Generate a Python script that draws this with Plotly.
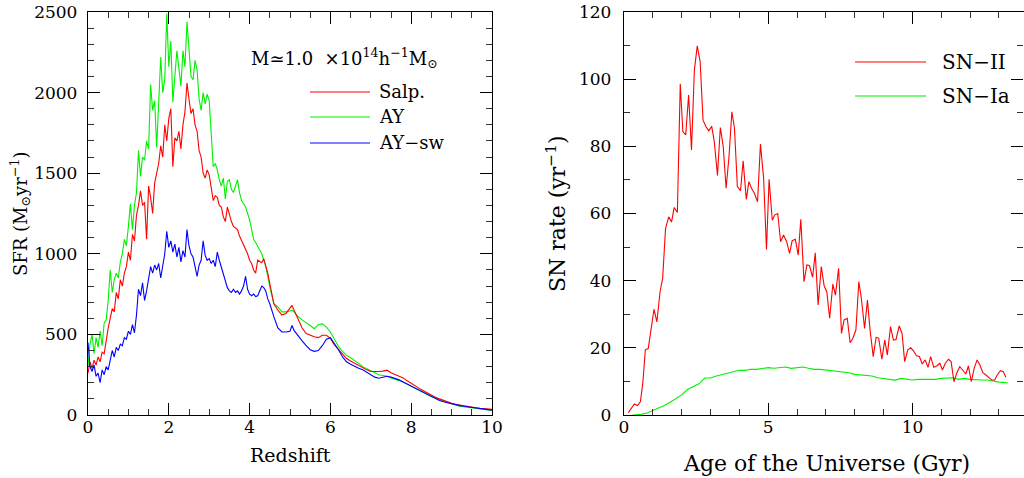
import plotly.graph_objects as go

# ---------------- data: left panel (SFR vs redshift) ----------------
redshift = [
    0.00, 0.05, 0.10, 0.15, 0.20, 0.25, 0.30, 0.35, 0.40, 0.45,
    0.50, 0.55, 0.60, 0.65, 0.70, 0.75, 0.80, 0.85, 0.90, 0.95,
    1.00, 1.05, 1.10, 1.15, 1.20, 1.25, 1.30, 1.35, 1.40, 1.45,
    1.50, 1.55, 1.60, 1.65, 1.70, 1.75, 1.80, 1.85, 1.90, 1.95,
    2.00, 2.05, 2.10, 2.15, 2.20, 2.25, 2.30, 2.35, 2.40, 2.45,
    2.50, 2.55, 2.60, 2.65, 2.70, 2.75, 2.80, 2.85, 2.90, 2.95,
    3.00, 3.05, 3.10, 3.15, 3.20, 3.25, 3.30, 3.35, 3.40, 3.45,
    3.50, 3.55, 3.60, 3.65, 3.70, 3.75, 3.80, 3.85, 3.90, 3.95,
    4.00, 4.05, 4.10, 4.15, 4.20, 4.25, 4.30, 4.35, 4.40, 4.45,
    4.50,
    4.6, 4.7, 4.8, 4.9, 5.0, 5.05, 5.1, 5.2, 5.3, 5.4,
    5.5, 5.6, 5.7, 5.8, 5.9, 6.0, 6.1, 6.2, 6.3, 6.4,
    6.5, 6.6, 6.7, 6.8, 6.9, 7.0, 7.1, 7.2, 7.3, 7.4,
    7.5, 7.6, 7.7, 7.8, 7.9, 8.0, 8.1, 8.2, 8.3, 8.4,
    8.5, 8.6, 8.7, 8.8, 8.9, 9.0, 9.1, 9.2, 9.3, 9.4,
    9.5, 9.6, 9.7, 9.8, 9.9, 10.0,
]

sfr_salp = [
    260, 330, 290, 340, 310, 360, 330, 390, 380, 470,
    540, 600, 660, 640, 760, 720, 840, 800, 880, 920,
    1010, 960, 1120, 1080, 1240, 1300, 1390, 1300, 1320, 1090,
    1420, 1350, 1250, 1440, 1500, 1560, 1670, 1600, 1800, 1700,
    1840, 1900, 1540, 1720, 1700, 1760, 1650, 1800, 1880, 2060,
    1960, 1870, 1900, 1800, 1760, 1640, 1600, 1500, 1470, 1520,
    1490, 1420, 1330, 1360, 1350, 1300, 1290, 1230, 1200, 1290,
    1240, 1200, 1170, 1160, 1150, 1110, 1085, 1060, 1025, 1000,
    960, 940, 900, 880, 960, 950, 945, 970, 930, 880,
    815,
    690, 650, 620, 630, 660, 680, 650, 590, 540, 505,
    495, 485, 480, 495, 495, 475, 435, 405, 375, 350,
    335, 320, 305, 290, 280, 270, 268, 270, 272, 278,
    262, 250, 240, 230, 212, 195, 180, 165, 150, 135,
    122, 110, 100, 90, 80, 72, 67, 62, 57, 52,
    48, 45, 42, 40, 37, 35,
]

sfr_ay = [
    300, 440, 500, 380, 480, 420, 520, 430, 570, 590,
    710, 900, 760, 840, 880, 850, 950, 1000, 1090, 1050,
    1170, 1310, 1150, 1300, 1380, 1640, 1480, 1600, 1580, 1700,
    1650, 2050, 1890, 1950, 1660, 2000, 2220, 2000, 2080, 2490,
    2160, 2320, 1940, 2100, 2260, 2150, 2040, 2260, 2160, 2440,
    2250, 2100, 2080, 2200, 2140, 1960, 1890, 2000, 1930, 1990,
    1950, 1710, 1540, 1560, 1520, 1460, 1420, 1470, 1340, 1450,
    1460, 1400, 1380, 1420, 1460, 1380, 1330, 1310, 1290, 1250,
    1210, 1150, 1090, 1070, 1045, 1020, 1000, 960, 920, 860,
    795,
    690, 670, 640, 640, 645, 650, 640, 610, 590, 575,
    555, 535, 560, 565, 545, 515, 465, 425, 395, 370,
    355, 340, 320, 300, 288, 275, 262, 250, 245, 240,
    230, 220, 212, 205, 192, 180, 168, 155, 140, 125,
    115, 105, 95, 85, 78, 70, 62, 55, 52, 48,
    44, 40, 36, 33, 31, 30,
]

sfr_aysw = [
    450, 300, 270, 310, 240, 260, 200, 280, 250, 300,
    280, 340, 400, 360, 420, 400, 440, 430, 480, 470,
    520, 500, 560, 510, 620, 780, 740, 820, 710, 770,
    860, 920, 880, 930, 900, 940, 850, 930, 1000, 1140,
    1040, 1080, 1010, 1060, 980, 1040, 950, 1020, 980, 1150,
    1050, 1000, 980, 920, 860, 930, 960, 1080, 990, 960,
    970, 940, 960, 920, 1010, 960, 920, 880, 840, 790,
    770, 760, 780, 760, 770, 750, 770, 800, 860, 780,
    750, 740, 750, 735, 740, 770, 800, 790, 770, 720,
    690,
    610, 540, 515, 515, 520, 555, 525, 490, 460, 430,
    405, 395, 400, 430, 470, 480, 445, 405, 360, 330,
    315, 300, 290, 280, 265, 250, 235, 228, 235, 240,
    235, 228, 218, 205, 192, 180, 165, 150, 138, 125,
    112, 100, 90, 82, 75, 68, 63, 58, 54, 50,
    46, 42, 39, 36, 33, 30,
]

# ---------------- data: right panel (SN rates vs age) ----------------
sn2_age = [
    0.15, 0.36, 0.47, 0.57, 0.65, 0.74, 0.84, 0.94, 1.04, 1.14,
    1.25, 1.34, 1.44, 1.55, 1.65, 1.74, 1.85, 1.95, 2.04, 2.14,
    2.24, 2.34, 2.44, 2.54, 2.64, 2.74, 2.84, 2.94, 3.04, 3.13,
    3.24, 3.34, 3.44, 3.54, 3.64, 3.74, 3.83, 3.93, 4.04, 4.13,
    4.24, 4.33, 4.42, 4.52, 4.63, 4.73, 4.84, 4.94, 5.03, 5.14,
    5.23, 5.33, 5.43, 5.53, 5.64, 5.74, 5.83, 5.94, 6.04, 6.13,
    6.24, 6.34, 6.43, 6.54, 6.63, 6.73, 6.84, 6.94, 7.03, 7.13,
    7.24, 7.33, 7.44, 7.54, 7.63, 7.74, 7.84, 7.93, 8.04, 8.14,
    8.23, 8.34, 8.44, 8.53, 8.64, 8.74, 8.83, 8.94, 9.04, 9.13,
    9.24, 9.34, 9.43, 9.54, 9.64, 9.73, 9.84, 9.94, 10.03, 10.14,
    10.24, 10.34, 10.44, 10.54, 10.63, 10.74, 10.84, 10.95, 11.04, 11.14,
    11.25, 11.34, 11.44, 11.54, 11.64, 11.74, 11.85, 11.94, 12.04, 12.14,
    12.24, 12.34, 12.44, 12.55, 12.64, 12.75, 12.85, 12.94, 13.05, 13.15,
    13.24,
]
sn2_rate = [
    0.7, 3.3, 2.8, 4.0, 9.4, 19.4, 19.8, 26.3, 31.5, 27.7,
    36.7, 40.7, 55.5, 59.0, 57.5, 61.8, 60.3, 98.6, 84.4, 83.4,
    95.3, 78.9, 102.7, 109.9, 105.2, 87.8, 85.9, 84.6, 86.0, 81.4,
    71.3, 85.6, 79.9, 67.5, 76.9, 90.3, 85.4, 68.0, 66.8, 75.7,
    64.2, 69.5, 67.5, 66.0, 63.5, 80.7, 70.5, 49.3, 70.2, 58.0,
    59.6, 60.0, 51.6, 53.6, 51.6, 48.1, 51.9, 52.3, 47.6, 58.3,
    39.7, 44.7, 44.5, 41.0, 48.3, 32.8, 44.2, 38.4, 36.7, 28.8,
    39.0, 35.7, 43.7, 24.3, 28.3, 28.8, 21.5, 22.8, 25.3, 39.7,
    34.7, 25.8, 34.2, 25.3, 17.4, 23.1, 22.9, 16.6, 22.3, 17.9,
    26.3, 22.3, 22.5, 26.5, 24.3, 15.9, 19.4, 20.0, 19.2, 17.6,
    17.4, 15.2, 16.4, 14.2, 17.4, 14.2, 14.6, 15.4, 13.4, 15.4,
    16.6, 15.9, 9.9, 12.6, 14.4, 13.4, 12.2, 14.6, 9.9, 13.9,
    16.4, 14.9, 12.6, 11.9, 11.2, 10.4, 10.4, 11.9, 13.2, 12.9,
    11.2,
]

ia_age = [
    0.3, 0.6, 0.8, 1.0, 1.2, 1.4, 1.6, 1.8, 2.0, 2.2,
    2.4, 2.6, 2.8, 3.0, 3.2, 3.4, 3.6, 3.8, 4.0, 4.2,
    4.4, 4.6, 4.8, 5.0, 5.2, 5.4, 5.6, 5.8, 6.0, 6.2,
    6.4, 6.6, 6.8, 7.0, 7.2, 7.4, 7.6, 7.8, 8.0, 8.2,
    8.4, 8.6, 8.8, 9.0, 9.2, 9.4, 9.6, 9.8, 10.0, 10.2,
    10.4, 10.6, 10.8, 11.0, 11.2, 11.4, 11.6, 11.8, 12.0, 12.2,
    12.4, 12.6, 12.8, 13.0, 13.3,
]
ia_rate = [
    0.0, 0.2, 0.6, 1.3, 2.0, 2.8, 3.8, 5.0, 6.0, 7.6,
    8.4, 9.3, 11.0, 11.0, 11.6, 12.0, 12.4, 12.8, 13.3, 13.3,
    13.6, 13.6, 13.9, 14.1, 13.9, 14.1, 14.3, 13.9, 14.1, 14.3,
    13.9, 13.6, 13.6, 13.4, 13.1, 12.9, 12.9, 12.6, 12.1, 11.9,
    11.9, 11.6, 11.1, 10.9, 10.6, 10.4, 10.9, 10.6, 10.4, 10.6,
    10.6, 10.6, 10.6, 10.9, 10.9, 11.1, 10.6, 10.9, 10.6, 10.4,
    10.4, 10.4, 10.1, 9.8, 9.6,
]

left_names = ["Salp.", "AY", "AY\u2212sw"]
right_names = ["SN\u2212II", "SN\u2212Ia"]
mass_label = "M\u22431.0  \u00d710<sup>14</sup>h<sup>\u22121</sup>M<sub>\u2299</sub>"
left_xtitle = "Redshift"
left_ytitle = "SFR (M<sub>\u2299</sub>yr<sup>\u22121</sup>)"
right_xtitle = "Age of the Universe (Gyr)"
right_ytitle = "SN rate (yr<sup>\u22121</sup>)"

RED, GREEN, BLUE = "#ff0000", "#00f000", "#0000ff"
FONT = "DejaVu Serif"

fig = go.Figure()
fig.add_trace(go.Scatter(x=redshift, y=sfr_ay, mode="lines", line=dict(color=GREEN, width=1.1),
                         name=left_names[1], xaxis="x", yaxis="y"))
fig.add_trace(go.Scatter(x=redshift, y=sfr_salp, mode="lines", line=dict(color=RED, width=1.1),
                         name=left_names[0], xaxis="x", yaxis="y"))
fig.add_trace(go.Scatter(x=redshift, y=sfr_aysw, mode="lines", line=dict(color=BLUE, width=1.1),
                         name=left_names[2], xaxis="x", yaxis="y"))
fig.add_trace(go.Scatter(x=ia_age, y=ia_rate, mode="lines", line=dict(color=GREEN, width=1.1),
                         name=right_names[1], xaxis="x2", yaxis="y2"))
fig.add_trace(go.Scatter(x=sn2_age, y=sn2_rate, mode="lines", line=dict(color=RED, width=1.1),
                         name=right_names[0], xaxis="x2", yaxis="y2"))

W, H = 1024, 478
L_DOM = [88 / W, 492 / W]
R_DOM = [624 / W, 1023.5 / W]
Y_DOM = [(H - 415) / H, (H - 12) / H]

def axis_style(dom, rng, dtick, minor_dtick, anchor, standoff, tfs):
    return dict(
        domain=dom, range=rng, anchor=anchor, automargin=False,
        showgrid=False, zeroline=False,
        showline=True, linecolor="black", linewidth=1.3, mirror="allticks",
        ticks="inside", ticklen=12, tickwidth=1.2, tickcolor="black",
        dtick=dtick, tick0=0,
        minor=dict(ticks="inside", ticklen=6, tickwidth=1.2, tickcolor="#333",
                   dtick=minor_dtick, tick0=0, showgrid=False),
        tickfont=dict(family=FONT, size=tfs, color="black"),
        ticklabelstandoff=standoff,
    )

fig.update_layout(
    width=W, height=H,
    margin=dict(l=0, r=0, t=0, b=0),
    paper_bgcolor="white", plot_bgcolor="white",
    showlegend=False,
    xaxis=axis_style(L_DOM, [0, 10], 2, 0.5, "y", -4, 17),
    yaxis=axis_style(Y_DOM, [0, 2500], 500, 100, "x", 6, 17),
    xaxis2=axis_style(R_DOM, [0, 13.85], 5, 1, "y2", -4, 17),
    yaxis2=axis_style(Y_DOM, [0, 120], 20, 10, "x2", 8, 17),
)

def paper_text(xp, yp, text, size, angle=0):
    fig.add_annotation(x=xp / W, y=1 - yp / H, xref="paper", yref="paper", text=text,
                       showarrow=False, xanchor="center", yanchor="middle", textangle=angle,
                       font=dict(family=FONT, size=size, color="black"))

# axis titles
paper_text(290, 455, left_xtitle, 19)
paper_text(20, 214, left_ytitle, 18, -90)
paper_text(826, 463, right_xtitle, 22)
paper_text(556, 214, right_ytitle, 22, -90)

# ---- in-plot legend keys (left panel) ----
fig.add_annotation(x=(249 - 88) / 404, y=(415 - 58) / 403, xref="x domain", yref="y domain",
                   text=mass_label, showarrow=False, xanchor="left", yanchor="middle",
                   font=dict(family=FONT, size=18, color="black"))
left_rows = [(92, RED, left_names[0]), (117, GREEN, left_names[1]), (143, BLUE, left_names[2])]
for ypix, col, txt in left_rows:
    yd = (415 - ypix) / 403
    fig.add_shape(type="line", xref="x domain", yref="y domain",
                  x0=(310 - 88) / 404, x1=(370 - 88) / 404, y0=yd, y1=yd,
                  line=dict(color=col, width=1.1))
    fig.add_annotation(x=(377 - 88) / 404, y=yd, xref="x domain", yref="y domain", text=txt,
                       showarrow=False, xanchor="left", yanchor="middle",
                       font=dict(family=FONT, size=18, color="black"))

# ---- in-plot legend keys (right panel) ----
right_rows = [(62, RED, right_names[0]), (96, GREEN, right_names[1])]
for ypix, col, txt in right_rows:
    yd = (415 - ypix) / 403
    fig.add_shape(type="line", xref="x2 domain", yref="y2 domain",
                  x0=(855 - 624) / 399.5, x1=(926 - 624) / 399.5, y0=yd, y1=yd,
                  line=dict(color=col, width=1.1))
    fig.add_annotation(x=(940 - 624) / 399.5, y=yd, xref="x2 domain", yref="y2 domain", text=txt,
                       showarrow=False, xanchor="left", yanchor="middle",
                       font=dict(family=FONT, size=20, color="black"))

fig.write_html("out.html")
